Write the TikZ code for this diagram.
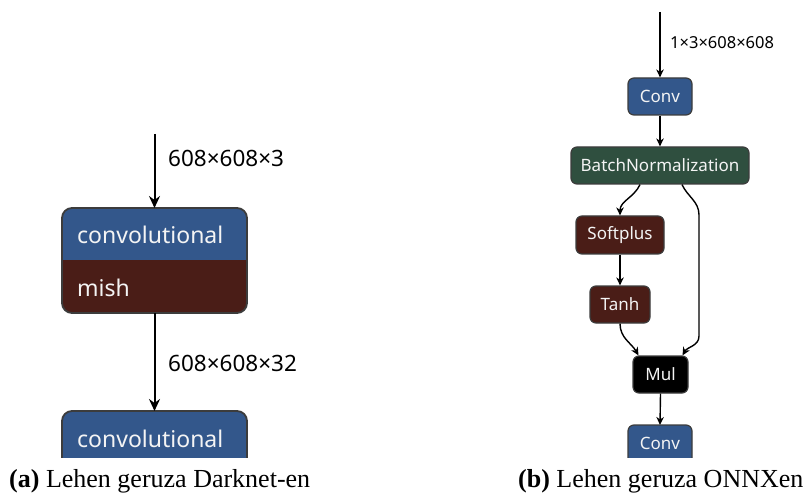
\documentclass[tikz,border=0pt]{standalone}
\usepackage{fontspec}
\setmainfont{Liberation Serif}
\newfontfamily\uifont{Noto Sans}
\usetikzlibrary{arrows.meta}

\definecolor{convblue}{HTML}{33578B}
\definecolor{actred}{HTML}{4A1D17}
\definecolor{normgreen}{HTML}{2F4F3F}
\definecolor{boxline}{HTML}{3C3C3C}
\definecolor{boxtext}{HTML}{F4F4F4}

\tikzset{
  bigarrow/.style={line width=2pt, -{Stealth[length=12pt,width=11pt,inset=4pt]}},
  smallarrow/.style={line width=1.4pt, -{Stealth[length=8pt,width=7.5pt,inset=2.5pt]}},
  region/.style={inner sep=0pt, outer sep=0pt},
  layertext/.style={inner sep=0pt, text=boxtext, font=\uifont\fontsize{23}{27}\selectfont},
  dimlabel/.style={inner sep=0pt, anchor=west, font=\uifont\fontsize{22.5}{26}\selectfont},
  smalldim/.style={inner sep=0pt, anchor=west, font=\uifont\fontsize{16.5}{20}\selectfont},
  opbox/.style={draw=boxline, line width=1.2pt, rounded corners=6pt, inner sep=0pt,
    text=boxtext, font=\uifont\fontsize{17}{20}\selectfont, minimum height=37pt},
  caption/.style={inner sep=0pt, anchor=base west, font=\fontsize{26}{30}\selectfont},
}

\begin{document}
\begin{tikzpicture}[x=1pt, y=-1pt]
\useasboundingbox (0,0) rectangle (808,494);

% ---- Darknet layer: convolutional + mish block ----
\node[region, minimum width=185pt, minimum height=52pt] (convA) at (154.5,234) {};
\node[region, minimum width=185pt, minimum height=53pt] (mishA) at (154.5,286.5) {};
\begin{scope}
  \clip[rounded corners=10pt] (convA.north west) rectangle (mishA.south east);
  \fill[convblue] (convA.north west) rectangle (convA.south east);
  \fill[actred] (mishA.north west) rectangle (mishA.south east);
\end{scope}
\draw[boxline, line width=1.8pt, rounded corners=10pt] (convA.north west) rectangle (mishA.south east);
\node[layertext, anchor=west] (convAtext) at ([xshift=15pt,yshift=-1pt]convA.west) {convolutional};
\node[layertext, anchor=west] (mishAtext) at ([xshift=15pt,yshift=-1pt]mishA.west) {mish};

% next convolutional layer, cut off at the bottom
\node[region, minimum width=185pt, minimum height=52pt] (convB) at (154.5,437) {};
\begin{scope}
  \clip (0,0) rectangle (808,457);
  \draw[boxline, line width=1.8pt, fill=convblue, rounded corners=10pt]
    (convB.north west) rectangle ([yshift=-30pt]convB.south east);
\end{scope}
\node[layertext, anchor=west] (convBtext) at ([xshift=15pt,yshift=-2pt]convB.west) {convolutional};

% connectors and tensor shapes
\coordinate (inA) at (154.5,134);
\draw[bigarrow] (inA) -- (convA.north);
\draw[bigarrow] (mishA.south) -- (convB.north);
\node[dimlabel] (dimA1) at (168,158) {608×608×3};
\node[dimlabel] (dimA2) at (168,363) {608×608×32};

% ---- ONNX graph ----
\node[opbox, fill=convblue, minimum width=64pt] (conv1) at (660,96.5) {Conv};
\node[opbox, fill=normgreen, minimum width=178pt] (bn) at (660,165.5) {BatchNormalization};
\node[opbox, fill=actred, minimum width=88pt, minimum height=38pt] (sp) at (620,235) {Softplus};
\node[opbox, fill=actred, minimum width=60pt] (tanh) at (620,304.5) {Tanh};
\node[opbox, fill=black, minimum width=55pt] (mul) at (660.5,374.5) {Mul};
\node[region, minimum width=64pt, minimum height=37pt] (conv2) at (660,443.5) {};
\begin{scope}
  \clip (0,0) rectangle (808,457);
  \draw[boxline, line width=1.2pt, fill=convblue, rounded corners=6pt]
    (conv2.north west) rectangle ([yshift=-20pt]conv2.south east);
\end{scope}
\node[inner sep=0pt, text=boxtext, font=\uifont\fontsize{17}{20}\selectfont] (conv2text) at (conv2.center) {Conv};

\coordinate (inB) at (660,12);
\draw[smallarrow] (inB) -- (conv1.north);
\node[smalldim] (dimB) at (670,43) {1×3×608×608};
\draw[smallarrow] (conv1.south) -- (bn.north);
\draw[smallarrow] ([xshift=-20pt]bn.south) to[out=-115,in=90] (sp.north);
\draw[smallarrow] (sp.south) -- (tanh.north);
\draw[smallarrow] (tanh.south) to[out=-90,in=120] ([xshift=-22pt]mul.north);
\coordinate (skipTop) at (699,215);
\coordinate (skipBot) at (699,336);
\draw[smallarrow] ([xshift=22pt]bn.south) to[out=-65,in=90] (skipTop) -- (skipBot)
  to[out=-90,in=60] ([xshift=22pt]mul.north);
\draw[smallarrow] (mul.south) -- (conv2.north);

% ---- captions ----
\node[caption] (capA) at (9,487.5) {\textbf{(a)} Lehen geruza Darknet-en};
\node[caption] (capB) at (518,487.5) {\textbf{(b)} Lehen geruza ONNXen};
\end{tikzpicture}
\end{document}
